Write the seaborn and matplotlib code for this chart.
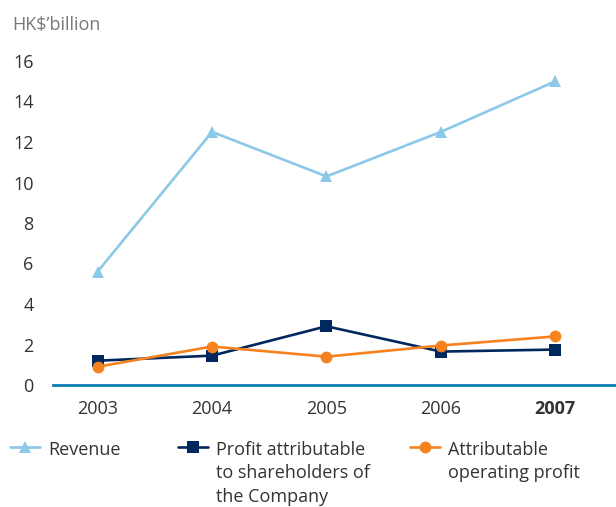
import matplotlib
matplotlib.use("Agg")
import matplotlib.pyplot as plt
import seaborn as sns
import pandas as pd

years = ["2003", "2004", "2005", "2006", "2007"]
revenue = [5.6, 12.5, 10.3, 12.5, 15.0]
profit_shareholders = [1.2, 1.45, 2.9, 1.65, 1.75]
operating_profit = [0.9, 1.9, 1.4, 1.95, 2.4]
y_ticks = [0, 2, 4, 6, 8, 10, 12, 14, 16]

sns.set_theme(style="white")
plt.rcParams["font.family"] = ["Open Sans", "DejaVu Sans"]

C_REV = "#8cc8e8"
C_PROFIT = "#00285f"
C_OP = "#f5821f"
C_AXIS = "#0a7bb5"
C_TEXT = "#333333"
FS = 13

x = list(range(len(years)))
df = pd.DataFrame({
    "x": x * 3,
    "value": revenue + profit_shareholders + operating_profit,
    "series": ["Revenue"] * 5
    + ["Profit attributable\nto shareholders of\nthe Company"] * 5
    + ["Attributable\noperating profit"] * 5,
})

fig = plt.figure(figsize=(6.16, 5.07), dpi=100)
ax = fig.add_axes([53 / 616, (507 - 385) / 507, 1 - 53 / 616, (385 - 61) / 507])

styles = [
    ("Revenue", C_REV, "^"),
    ("Profit attributable\nto shareholders of\nthe Company", C_PROFIT, "s"),
    ("Attributable\noperating profit", C_OP, "o"),
]
for name, color, mk in styles:
    sub = df[df["series"] == name]
    sns.lineplot(data=sub, x="x", y="value", ax=ax, color=color, marker=mk,
                 markersize=8.5, markeredgewidth=0, linewidth=1.9,
                 label=name, legend=False, clip_on=False)

ax.set_xlim(-0.39, 4.53)
ax.set_ylim(0, 16)
ax.set_yticks(y_ticks)
ax.set_yticklabels([str(v) for v in y_ticks])
ax.set_xticks(x)
ax.set_xticklabels(years)
ax.set_xlabel("")
ax.set_ylabel("")
for lab in ax.get_xticklabels():
    if lab.get_text() == "2007":
        lab.set_fontweight("bold")
ax.tick_params(axis="both", length=0, labelsize=FS, colors=C_TEXT)
ax.tick_params(axis="y", pad=14)
ax.tick_params(axis="x", pad=11)
for side in ["top", "right", "left"]:
    ax.spines[side].set_visible(False)
ax.spines["bottom"].set_color(C_AXIS)
ax.spines["bottom"].set_linewidth(2)
ax.grid(False)

fig.text(12 / 616, 1 - 25 / 507, "HK$\u2019billion", fontsize=FS, color="#777777",
         va="center", ha="left")

handles = ax.get_lines()
anchors = [10 / 616, 178 / 616, 410 / 616]
for h, ax_x in zip(handles, anchors):
    leg = fig.legend(handles=[h], labels=[h.get_label()], loc="upper left",
                     bbox_to_anchor=(ax_x, 1 - 441 / 507), frameon=False,
                     fontsize=FS, handlelength=1.65, handletextpad=0.45,
                     borderaxespad=0, borderpad=0)
    for t in leg.get_texts():
        t.set_color(C_TEXT)
        t.set_linespacing(1.38)
    # keep the key level with the first line of a wrapped label
    for col in leg._legend_handle_box.get_children():
        for row in col.get_children():
            row.align = "top"

fig.savefig("out.png", dpi=100)
